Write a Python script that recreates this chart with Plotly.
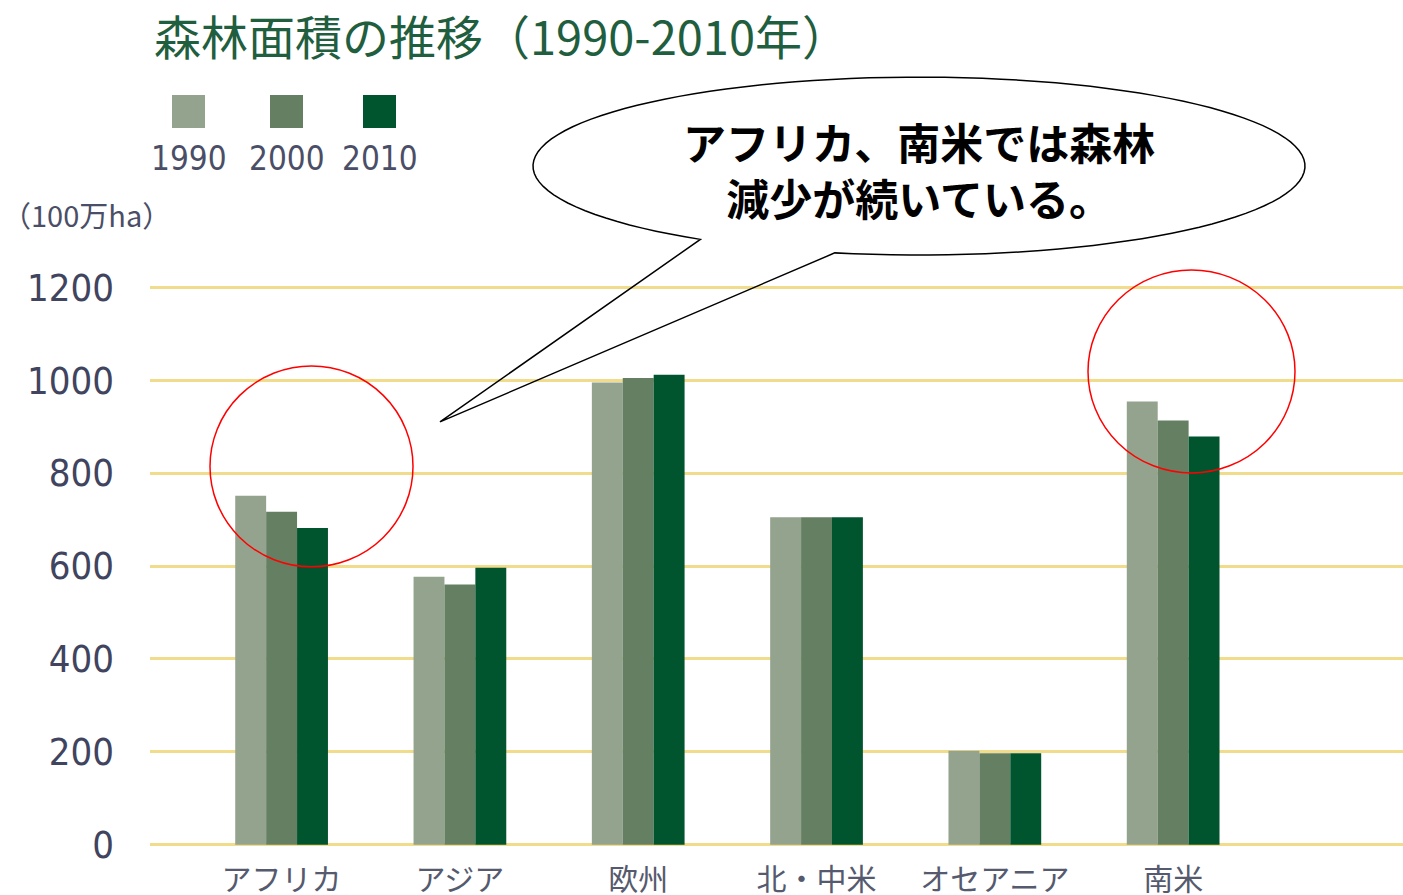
import math
import plotly.graph_objects as go

# ---- data ----
categories = ["アフリカ", "アジア", "欧州", "北・中米", "オセアニア", "南米"]
years = ["1990", "2000", "2010"]
v1990 = [751, 577, 995, 705, 202, 954]
v2000 = [717, 560, 1005, 705, 197, 913]
v2010 = [682, 596, 1012, 705, 197, 879]
series_values = [v1990, v2000, v2010]
colors = ["#93a38d", "#647f62", "#00552f"]
y_ticks = [0, 200, 400, 600, 800, 1000, 1200]
title_text = "森林面積の推移（1990-2010年）"
unit_text = "（100万ha）"
callout_text = "アフリカ、南米では森林<br>減少が続いている。"

W_FIG, H_FIG = 1403, 895
L, R, T, B = 150, 1403, 285, 847.3


def px(X):
    return (X - L) / (R - L)


def py(Y):
    return (B - Y) / (B - T)


fig = go.Figure()
for name, vals, col in zip(years, series_values, colors):
    fig.add_trace(go.Bar(x=categories, y=vals, name=name,
                         marker=dict(color=col, line=dict(width=0)),
                         showlegend=False))

shapes = []
annotations = []

# legend (squares with labels below)
legend_x = [172, 270, 363]
for x0, name, col in zip(legend_x, years, colors):
    shapes.append(dict(type="rect", xref="paper", yref="paper",
                       x0=px(x0), x1=px(x0 + 33), y0=py(128), y1=py(95),
                       fillcolor=col, line=dict(width=0)))
    annotations.append(dict(text=name, xref="paper", yref="paper",
                            x=px(x0 + 17), y=py(158), xanchor="center", yanchor="middle",
                            showarrow=False,
                            font=dict(family="DejaVu Sans Condensed, DejaVu Sans", size=33,
                                      color="#4a4e66")))

# title
annotations.append(dict(text=title_text, xref="paper", yref="paper",
                        x=px(152), y=py(34), xanchor="left", yanchor="middle",
                        showarrow=False,
                        font=dict(family="Noto Sans CJK JP", size=47, color="#1f5e3e")))
# unit
annotations.append(dict(text=unit_text, xref="paper", yref="paper",
                        x=px(0), y=py(214), xanchor="left", yanchor="middle",
                        showarrow=False,
                        font=dict(family="Noto Sans CJK JP", size=29, color="#4a4e66")))

# speech bubble
cx, cy, a, b = 919, 166, 386, 89
t_start, t_end = 124.5, 462.6
pts = []
n = 120
for i in range(n + 1):
    t = math.radians(t_start + (t_end - t_start) * i / n)
    pts.append((cx + a * math.cos(t), cy + b * math.sin(t)))
tip = (440, 422)
path = "M " + " L ".join(f"{px(x):.5f},{py(y):.5f}" for x, y in pts)
path += f" L {px(tip[0]):.5f},{py(tip[1]):.5f} Z"
shapes.append(dict(type="path", xref="paper", yref="paper", path=path,
                   line=dict(color="black", width=1.5), fillcolor="rgba(0,0,0,0)",
                   layer="above"))
annotations.append(dict(text=callout_text, xref="paper", yref="paper",
                        x=px(919), y=py(169), xanchor="center", yanchor="middle",
                        showarrow=False, align="center",
                        font=dict(family="Noto Sans CJK JP", size=43, color="black",
                                  weight="bold")))

# red circles
for (x0, y0, x1, y1) in [(210, 366, 413, 567), (1088, 270, 1295, 473)]:
    shapes.append(dict(type="circle", xref="paper", yref="paper",
                       x0=px(x0), x1=px(x1), y0=py(y1), y1=py(y0),
                       line=dict(color="red", width=1.5), layer="above"))

fig.update_layout(
    width=W_FIG, height=H_FIG,
    margin=dict(l=150, r=0, t=285, b=48, autoexpand=False),
    paper_bgcolor="white", plot_bgcolor="white",
    barmode="group", bargap=0.48, bargroupgap=0,
    shapes=shapes, annotations=annotations,
    xaxis=dict(range=[-0.738, 6.289], showgrid=False, zeroline=False, showline=False,
               ticks="", ticklabelstandoff=12, automargin=False,
               tickfont=dict(family="Noto Sans CJK JP", size=30, color="#555a6e")),
    yaxis=dict(range=[-5, 1205], tickvals=y_ticks, showgrid=True,
               gridcolor="#f0dc8a", gridwidth=2.5, zeroline=False, showline=False,
               ticks="", ticklabelstandoff=35, automargin=False,
               tickfont=dict(family="DejaVu Sans Condensed, DejaVu Sans", size=38,
                             color="#40445e")),
)

fig.write_html("out.html", config={"displayModeBar": False},
               post_script="document.body.style.margin='0';document.body.style.overflow='hidden';")
